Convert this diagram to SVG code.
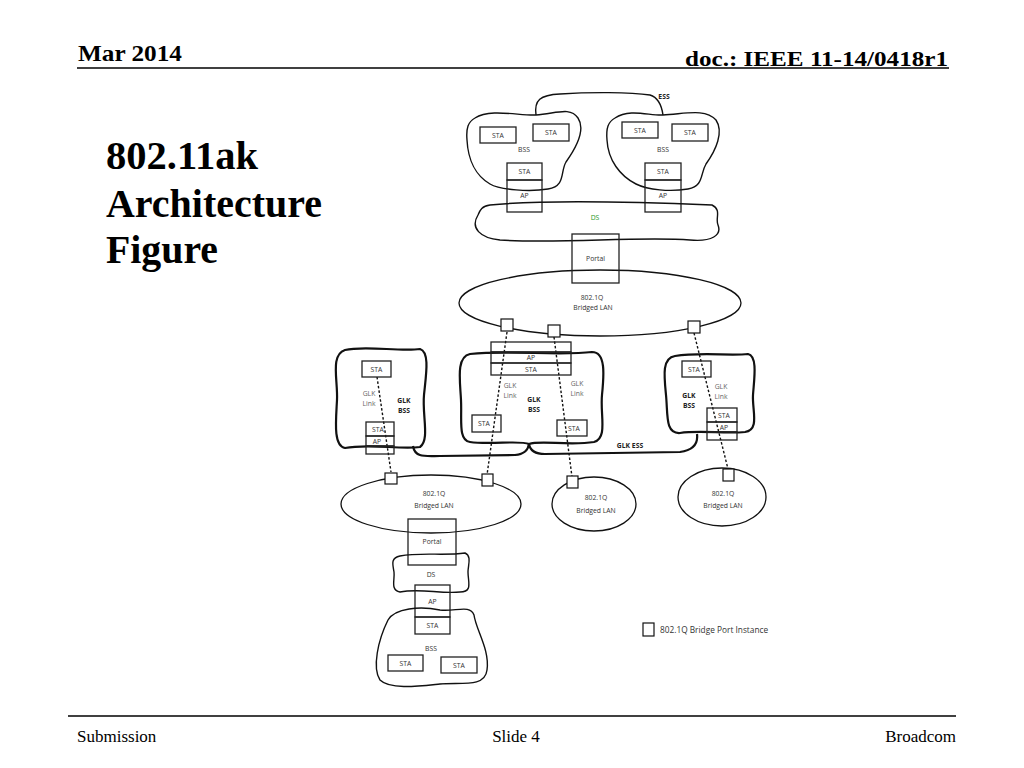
<svg xmlns="http://www.w3.org/2000/svg" width="1024" height="768" viewBox="0 0 1024 768">
<style>
.hdr{font-family:"Liberation Serif",serif;font-weight:bold;fill:#000}
.ftr{font-family:"Liberation Serif",serif;font-size:17px;fill:#000}
.ttl{font-family:"Liberation Serif",serif;font-weight:bold;font-size:39px;fill:#000}
.lbl{font-family:"Open Sans","Liberation Sans",sans-serif;font-size:6.8px;fill:#333;text-anchor:middle}
.gl{font-family:"Open Sans","Liberation Sans",sans-serif;font-size:6.8px;fill:#666;text-anchor:middle}
.bl{font-family:"Open Sans","Liberation Sans",sans-serif;font-size:6.8px;font-weight:bold;fill:#222;text-anchor:middle}
.box{fill:none;stroke:#222;stroke-width:1.3}
.cloud{fill:none;stroke:#111;stroke-width:1.4}
.thick{fill:none;stroke:#111;stroke-width:2.2}
.ell{fill:none;stroke:#111;stroke-width:1.3}
.port{fill:#fff;stroke:#111;stroke-width:1.2}
.dash{fill:none;stroke:#111;stroke-width:1.4;stroke-dasharray:2.5 2}
</style>
<rect width="1024" height="768" fill="#fff"/>
<g id="header">
<text class="hdr" x="78" y="61" font-size="23" textLength="104" lengthAdjust="spacingAndGlyphs">Mar 2014</text>
<text class="hdr" x="948" y="66" font-size="22" text-anchor="end" textLength="263" lengthAdjust="spacingAndGlyphs">doc.: IEEE 11-14/0418r1</text>
<line x1="77" y1="68" x2="949" y2="68" stroke="#000" stroke-width="1.5"/>
</g>
<g id="title">
<text class="ttl" x="106" y="169" textLength="152" lengthAdjust="spacingAndGlyphs">802.11ak</text>
<text class="ttl" x="106" y="217" textLength="216" lengthAdjust="spacingAndGlyphs">Architecture</text>
<text class="ttl" x="106" y="263" textLength="112" lengthAdjust="spacingAndGlyphs">Figure</text>
</g>
<g id="footer">
<line x1="68" y1="716" x2="956" y2="716" stroke="#000" stroke-width="1.5"/>
<text class="ftr" x="77" y="742">Submission</text>
<text class="ftr" x="516" y="742" text-anchor="middle">Slide 4</text>
<text class="ftr" x="956" y="742" text-anchor="end">Broadcom</text>
</g>

<g id="connectors">
<path id="ess-top" class="cloud" d="M 536,115 C 534,100 540,95 560,94 C 590,92 630,92 650,95 C 660,98 662,108 663,115"/>
<text class="bl" x="664" y="99" font-size="6">ESS</text>
<path id="glk-ess" class="thick" d="M 413,446 C 415,458 425,456 440,456 L 515,455 C 525,454 528,450 529,444 C 530,450 535,454 545,454 L 680,452 C 695,450 698,442 697,434"/>
<text class="bl" x="630" y="448">GLK ESS</text>
<line class="dash" x1="377" y1="377" x2="391" y2="472"/>
<line class="dash" x1="507" y1="332" x2="487" y2="475"/>
<line class="dash" x1="554" y1="337" x2="572" y2="477"/>
<line class="dash" x1="694" y1="333" x2="728" y2="469"/>
</g>

<g id="bss-top-left">
<path class="cloud" d="M 475,118 C 490,108 520,116 536,115 C 555,114 570,106 578,118 C 586,130 576,148 566,162 C 560,172 566,186 548,189 C 530,192 500,190 490,184 C 476,176 468,160 467,140 C 466,128 468,122 475,118 Z"/>
<rect class="box" x="480" y="127" width="36" height="16"/>
<text class="lbl" x="498" y="137.5">STA</text>
<rect class="box" x="533" y="124" width="36" height="17"/>
<text class="lbl" x="551" y="134.5">STA</text>
<text class="lbl" x="524" y="152">BSS</text>
</g>
<g id="ap-top-left">
<rect class="box" x="507" y="163" width="35" height="17"/>
<text class="lbl" x="524.5" y="174">STA</text>
<rect class="box" x="507" y="180" width="35" height="32"/>
<text class="lbl" x="524.5" y="198">AP</text>
</g>
<g id="bss-top-right">
<path class="cloud" d="M 615,118 C 630,108 650,116 663,115 C 685,114 705,108 716,120 C 724,132 716,150 706,164 C 700,174 704,186 688,189 C 670,192 648,190 636,184 C 620,176 608,160 607,140 C 606,128 608,122 615,118 Z"/>
<rect class="box" x="622" y="122" width="36" height="16"/>
<text class="lbl" x="640" y="132.5">STA</text>
<rect class="box" x="672" y="124" width="36" height="17"/>
<text class="lbl" x="690" y="134.5">STA</text>
<text class="lbl" x="663" y="152">BSS</text>
</g>
<g id="ap-top-right">
<rect class="box" x="645" y="163" width="36" height="17"/>
<text class="lbl" x="663" y="174">STA</text>
<rect class="box" x="645" y="180" width="36" height="32"/>
<text class="lbl" x="663" y="198">AP</text>
</g>
<g id="ds-top">
<path class="cloud" d="M 490,205 C 540,200 640,202 712,205 C 722,210 715,218 718,225 C 722,235 712,242 690,240 C 640,236 560,244 500,240 C 480,238 470,228 478,215 C 480,210 482,206 490,205 Z"/>
<text class="lbl" x="595" y="220" style="fill:#2a9a2a">DS</text>
</g>
<g id="lan-main">
<ellipse class="ell" cx="600" cy="303" rx="141" ry="33"/>
<text class="lbl" x="592" y="300">802.1Q</text>
<text class="lbl" x="593" y="310">Bridged LAN</text>
</g>
<g id="portal-top">
<rect class="box" x="572" y="234" width="47" height="49"/>
<text class="lbl" x="595.5" y="261">Portal</text>
</g>
<g id="ports-top">
<rect class="port" x="501" y="319" width="12" height="12"/>
<rect class="port" x="548" y="325" width="12" height="12"/>
<rect class="port" x="688" y="321" width="12" height="12"/>
</g>

<g id="glk-bss-left">
<path class="thick" d="M 345,350 C 365,345 400,352 420,349 C 430,352 426,375 424,395 C 422,415 430,440 420,447 C 400,450 370,443 345,448 C 333,446 336,420 337,400 C 338,380 330,355 345,350 Z"/>
<rect class="box" x="362" y="361" width="29" height="16"/>
<text class="lbl" x="376.5" y="371.5">STA</text>
<text class="gl" x="369" y="396">GLK</text>
<text class="gl" x="369" y="405.5">Link</text>
<text class="bl" x="404" y="403">GLK</text>
<text class="bl" x="404" y="412.5">BSS</text>
<rect class="box" x="366" y="422" width="28" height="14"/>
<text class="lbl" x="378" y="431.5">STA</text>
<rect class="box" x="366" y="436" width="28" height="10"/>
<text class="lbl" x="377" y="443.5">AP</text>
<rect class="box" x="366" y="446" width="28" height="8"/>
</g>
<g id="glk-bss-center">
<path class="thick" d="M 470,354 C 510,350 560,356 592,352 C 606,352 604,375 602,395 C 600,415 608,438 594,442 C 570,446 540,440 529,444 C 520,440 490,445 470,442 C 458,440 462,420 461,400 C 460,380 456,357 470,354 Z"/>
<rect class="box" x="491" y="342" width="80" height="10" fill="#fff"/>
<rect class="box" x="491" y="352" width="80" height="11"/>
<text class="lbl" x="531" y="360">AP</text>
<rect class="box" x="491" y="363" width="80" height="12"/>
<text class="lbl" x="531" y="371.5">STA</text>
<text class="gl" x="510" y="388">GLK</text>
<text class="gl" x="510" y="397.5">Link</text>
<text class="gl" x="577" y="386">GLK</text>
<text class="gl" x="577" y="395.5">Link</text>
<text class="bl" x="534" y="402">GLK</text>
<text class="bl" x="534" y="412">BSS</text>
<rect class="box" x="472" y="415" width="29" height="17"/>
<text class="lbl" x="484" y="426">STA</text>
<rect class="box" x="557" y="420" width="30" height="16"/>
<text class="lbl" x="574" y="430.5">STA</text>
</g>
<g id="glk-bss-right">
<path class="thick" d="M 675,356 C 700,352 730,356 748,354 C 758,356 754,380 753,395 C 752,410 760,430 745,432 C 725,434 700,430 680,433 C 665,434 668,415 666,395 C 664,375 662,358 675,356 Z"/>
<rect class="box" x="682" y="361" width="29" height="16"/>
<text class="lbl" x="694" y="371.5">STA</text>
<text class="gl" x="721" y="389">GLK</text>
<text class="gl" x="721" y="398.5">Link</text>
<text class="bl" x="689" y="398">GLK</text>
<text class="bl" x="689" y="407.5">BSS</text>
<rect class="box" x="707" y="408" width="30" height="14"/>
<text class="lbl" x="724" y="417.5">STA</text>
<rect class="box" x="707" y="422" width="30" height="10"/>
<text class="lbl" x="724" y="429.5">AP</text>
<rect class="box" x="707" y="432" width="30" height="8"/>
</g>

<g id="lan-left">
<ellipse class="ell" cx="431" cy="504" rx="90" ry="29"/>
<text class="lbl" x="434" y="496">802.1Q</text>
<text class="lbl" x="434" y="508">Bridged LAN</text>
</g>
<g id="lan-mid">
<ellipse class="ell" cx="594" cy="504" rx="42" ry="27"/>
<text class="lbl" x="596" y="500">802.1Q</text>
<text class="lbl" x="596" y="513">Bridged LAN</text>
</g>
<g id="lan-right">
<ellipse class="ell" cx="722" cy="497" rx="44" ry="29"/>
<text class="lbl" x="723" y="496">802.1Q</text>
<text class="lbl" x="723" y="508">Bridged LAN</text>
</g>
<g id="ports-bottom">
<rect class="port" x="385" y="473" width="12" height="11"/>
<rect class="port" x="482" y="474" width="11" height="12"/>
<rect class="port" x="567" y="476" width="11" height="12"/>
<rect class="port" x="723" y="469" width="11" height="12"/>
</g>
<g id="portal-bottom">
<rect class="box" x="408" y="519" width="48" height="46"/>
<text class="lbl" x="432" y="544">Portal</text>
</g>
<g id="ds-bottom">
<path class="cloud" d="M 400,556 C 420,552 445,556 465,553 C 472,556 468,565 468,572 C 468,582 473,592 460,592 C 440,594 420,588 400,592 C 390,590 395,580 394,572 C 393,565 390,558 400,556 Z"/>
<text class="lbl" x="431" y="577">DS</text>
</g>
<g id="ap-bottom">
<rect class="box" x="415" y="585" width="35" height="32"/>
<text class="lbl" x="432.5" y="604">AP</text>
<rect class="box" x="415" y="617" width="35" height="17"/>
<text class="lbl" x="432.5" y="628">STA</text>
</g>
<g id="bss-bottom">
<path class="cloud" d="M 388,620 C 395,608 420,606 440,610 C 455,612 470,604 474,615 C 476,630 490,650 487,670 C 485,688 460,682 440,684 C 420,686 390,690 380,680 C 372,668 378,640 388,620 Z"/>
<text class="lbl" x="431" y="651">BSS</text>
<rect class="box" x="388" y="655" width="35" height="16"/>
<text class="lbl" x="405.5" y="665.5">STA</text>
<rect class="box" x="441" y="657" width="36" height="16"/>
<text class="lbl" x="459" y="667.5">STA</text>
</g>
<g id="legend">
<rect class="port" x="643" y="623" width="11" height="13"/>
<text x="660" y="633" font-family="Open Sans, Liberation Sans, sans-serif" font-size="8.3" fill="#333">802.1Q Bridge Port Instance</text>
</g>
</svg>
